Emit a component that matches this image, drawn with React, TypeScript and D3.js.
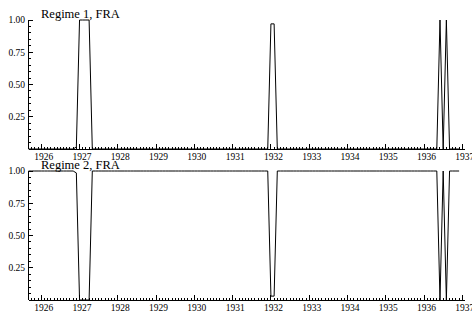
import * as d3 from 'd3';

// monthly smoothed regime probabilities, Sep 1925 .. Dec 1936
const startYear = 1925;
const startMonth = 8; // September (0-based)

const regime1: number[] = [
  0, 0, 0, 0, // 1925 Sep-Dec
  0, 0, 0, 0, 0, 0, 0, 0, 0, 0, 0, 0.015, // 1926
  1, 1, 1, 1, 0, 0, 0, 0, 0, 0, 0, 0, // 1927
  0, 0, 0, 0, 0, 0, 0, 0, 0, 0, 0, 0, // 1928
  0, 0, 0, 0, 0, 0, 0, 0, 0, 0, 0, 0, // 1929
  0, 0, 0, 0, 0, 0, 0, 0, 0, 0, 0, 0, // 1930
  0, 0, 0, 0, 0, 0, 0, 0, 0, 0, 0, 0, // 1931
  0.97, 0.97, 0, 0, 0, 0, 0, 0, 0, 0, 0, 0, // 1932
  0, 0, 0, 0, 0, 0, 0, 0, 0, 0, 0, 0, // 1933
  0, 0, 0, 0, 0, 0, 0, 0, 0, 0, 0, 0, // 1934
  0, 0, 0, 0, 0, 0, 0, 0, 0, 0, 0, 0, // 1935
  0, 0, 0, 0, 0, 1, 0, 1, 0, 0, 0, 0, // 1936
];

const regime2: number[] = [
  1, 1, 1, 1, // 1925 Sep-Dec
  1, 1, 1, 1, 1, 1, 1, 1, 1, 1, 1, 0.985, // 1926
  0, 0, 0, 0, 1, 1, 1, 1, 1, 1, 1, 1, // 1927
  1, 1, 1, 1, 1, 1, 1, 1, 1, 1, 1, 1, // 1928
  1, 1, 1, 1, 1, 1, 1, 1, 1, 1, 1, 1, // 1929
  1, 1, 1, 1, 1, 1, 1, 1, 1, 1, 1, 1, // 1930
  1, 1, 1, 1, 1, 1, 1, 1, 1, 1, 1, 1, // 1931
  0.03, 0.03, 1, 1, 1, 1, 1, 1, 1, 1, 1, 1, // 1932
  1, 1, 1, 1, 1, 1, 1, 1, 1, 1, 1, 1, // 1933
  1, 1, 1, 1, 1, 1, 1, 1, 1, 1, 1, 1, // 1934
  1, 1, 1, 1, 1, 1, 1, 1, 1, 1, 1, 1, // 1935
  1, 1, 1, 1, 1, 0, 1, 0, 1, 1, 1, 1, // 1936
];

const yearTicks = [1926, 1927, 1928, 1929, 1930, 1931, 1932, 1933, 1934, 1935, 1936, 1937];
const yTicks = [0.25, 0.5, 0.75, 1.0];
const titles = ['Regime 1, FRA', 'Regime 2, FRA'];

const W = 472;
const H = 318;
const font = '"Liberation Serif", "Times New Roman", serif';

const x = d3.scaleLinear()
  .domain([startYear + startMonth / 12, 1937.07])
  .range([28.5, 465]);

const panels = [
  { title: titles[0], values: regime1, top: 20, bottom: 149 },
  { title: titles[1], values: regime2, top: 171, bottom: 300 },
];

function Panel({ title, values, top, bottom }: { title: string; values: number[]; top: number; bottom: number }) {
  const y = d3.scaleLinear().domain([0, 1]).range([bottom, top]);
  const pts = values.map((v, i) => [startYear + (startMonth + i) / 12, v] as [number, number]);
  const line = d3.line<[number, number]>().x(d => x(d[0])).y(d => y(d[1]));

  const monthTicks = d3.range(0, Math.floor((1937 - startYear) * 12 - startMonth) + 1)
    .map(i => startYear + (startMonth + i) / 12);
  const minorY = d3.range(1, 21).map(i => i * 0.05);
  const x0 = x.range()[0];
  const x1 = x.range()[1];

  return (
    <g>
      <g stroke="#000" strokeWidth={1} shapeRendering="crispEdges">
        <line x1={x0} x2={x1} y1={bottom} y2={bottom} />
        <line x1={x0} x2={x0} y1={top} y2={bottom} />
        {monthTicks.map((t, i) => (
          <line key={'m' + i} x1={x(t)} x2={x(t)} y1={bottom} y2={bottom - 2} />
        ))}
        {yearTicks.map(t => (
          <line key={'y' + t} x1={x(t)} x2={x(t)} y1={bottom} y2={bottom - 5} />
        ))}
        {minorY.map((t, i) => (
          <line key={'ym' + i} x1={x0} x2={x0 + 2} y1={y(t)} y2={y(t)} />
        ))}
        {yTicks.map(t => (
          <line key={'yt' + t} x1={x0} x2={x0 + 4} y1={y(t)} y2={y(t)} />
        ))}
      </g>
      <path d={line(pts) ?? ''} fill="none" stroke="#000" strokeWidth={1} />
      {yearTicks.map(t => (
        <text key={'xl' + t} x={x(t) + 2.5} y={bottom + 11} textAnchor="middle"
          fontSize={9.5} fontFamily={font} fill="#000">{t}</text>
      ))}
      {yTicks.map(t => (
        <text key={'yl' + t} x={25} y={y(t)} dy="0.35em" textAnchor="end"
          fontSize={9.5} fontFamily={font} fill="#000">{t.toFixed(2)}</text>
      ))}
      <text x={41} y={top - 2} fontSize={12.5} fontFamily={font} fill="#000">{title}</text>
    </g>
  );
}

export default function App() {
  return (
    <div style={{ position: 'absolute', left: 0, top: 0 }}>
      <svg width={W} height={H} style={{ display: 'block', background: '#fff' }}>
        {panels.map(p => (
          <Panel key={p.title} {...p} />
        ))}
      </svg>
    </div>
  );
}
